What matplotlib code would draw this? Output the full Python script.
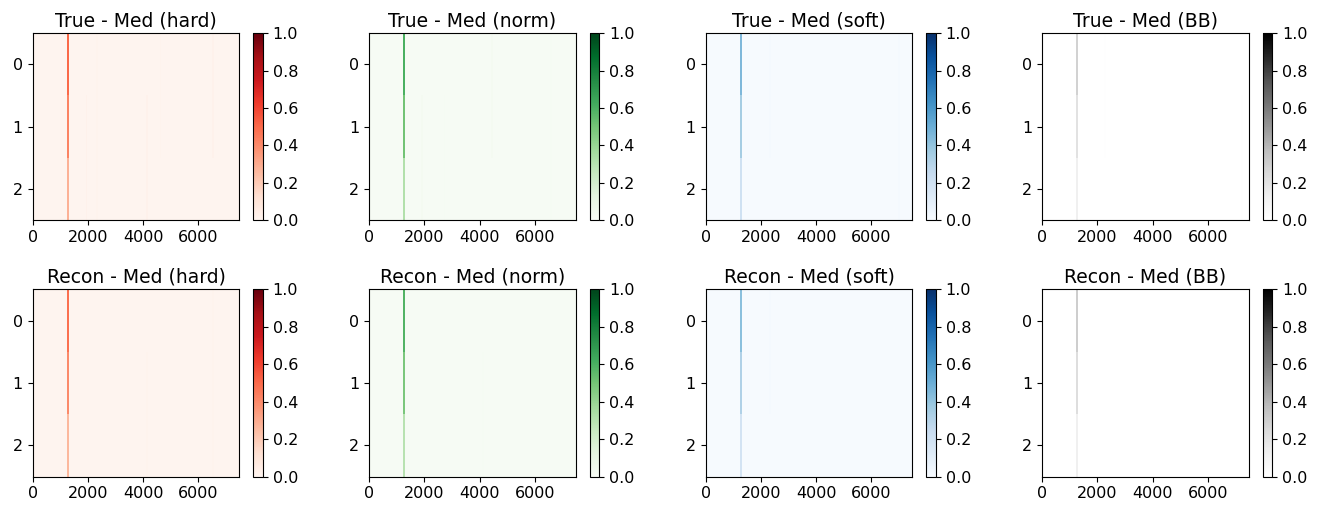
import numpy as np
import matplotlib
matplotlib.use("Agg")
import matplotlib.pyplot as plt

# ---- data ----
n_cols = 7488
n_rows = 3
titles_top = ["True - Med (hard)", "True - Med (norm)", "True - Med (soft)", "True - Med (BB)"]
titles_bot = ["Recon - Med (hard)", "Recon - Med (norm)", "Recon - Med (soft)", "Recon - Med (BB)"]
cmaps = ["Reds", "Greens", "Blues", "Greys"]

# main spike (column range) and its value per row for each panel
spike_start = 1215
spike_end = 1300
true_spike = [
    [0.50, 0.42, 0.28],   # hard
    [0.60, 0.50, 0.32],   # norm
    [0.45, 0.35, 0.20],   # soft
    [0.28, 0.20, 0.12],   # BB
]
recon_spike = [
    [0.48, 0.40, 0.26],
    [0.58, 0.48, 0.30],
    [0.42, 0.32, 0.18],
    [0.30, 0.22, 0.12],
]
background = [0.005, 0.005, 0.005, 0.0]

# faint secondary streaks: (start col, end col, row from, row to, value)
true_faint = [
    [(1900, 1960, 1, 3, 0.02), (2280, 2340, 0, 3, 0.015), (4100, 4160, 1, 3, 0.02),
     (4580, 4640, 0, 2, 0.015), (6480, 6540, 0, 2, 0.02)],
    [(1880, 1940, 1, 3, 0.02), (2700, 2760, 1, 3, 0.015), (4430, 4490, 0, 2, 0.02),
     (6550, 6610, 0, 3, 0.015)],
    [(2280, 2340, 0, 2, 0.015), (6950, 7010, 0, 3, 0.015)],
    [(2250, 2310, 0, 2, 0.01), (7200, 7260, 1, 3, 0.01)],
]
recon_faint = [
    [(4100, 4160, 1, 3, 0.012), (6480, 6540, 0, 3, 0.012)],
    [(4100, 4160, 1, 3, 0.015)],
    [(2280, 2340, 0, 2, 0.012)],
    [],
]


def build(spike, bg, faint):
    arr = np.full((n_rows, n_cols), bg, dtype=float)
    for (c0, c1, r0, r1, v) in faint:
        arr[r0:r1, c0:c1] = v
    for r in range(n_rows):
        arr[r, spike_start:spike_end] = spike[r]
    return arr


W, H = 1324, 508
fig = plt.figure(figsize=(W / 100, H / 100), dpi=100)

ax_left0 = 32.7
panel_step = 336.5
ax_w = 206.7
cb_off = 220.6
cb_w = 9.5
rows_y = [(33.3, 220.0), (289.3, 476.7)]

title_fs = 13.5
tick_fs = 11.5

for row_i, (titles, spikes, faints) in enumerate([(titles_top, true_spike, true_faint),
                                                 (titles_bot, recon_spike, recon_faint)]):
    top, bot = rows_y[row_i]
    for j in range(4):
        x0 = ax_left0 + j * panel_step
        ax = fig.add_axes([x0 / W, 1 - bot / H, ax_w / W, (bot - top) / H])
        cax = fig.add_axes([(x0 + cb_off) / W, 1 - bot / H, cb_w / W, (bot - top) / H])
        data = build(spikes[j], background[j], faints[j])
        im = ax.imshow(data, cmap=cmaps[j], vmin=0, vmax=1, aspect="auto",
                       interpolation="nearest")
        ax.set_title(titles[j], fontsize=title_fs, pad=5)
        ax.set_xticks([0, 2000, 4000, 6000])
        ax.set_yticks([0, 1, 2])
        ax.tick_params(labelsize=tick_fs)
        cb = fig.colorbar(im, cax=cax)
        cb.set_ticks([0.0, 0.2, 0.4, 0.6, 0.8, 1.0])
        cb.ax.tick_params(labelsize=tick_fs)

fig.savefig("out.png", dpi=100)
